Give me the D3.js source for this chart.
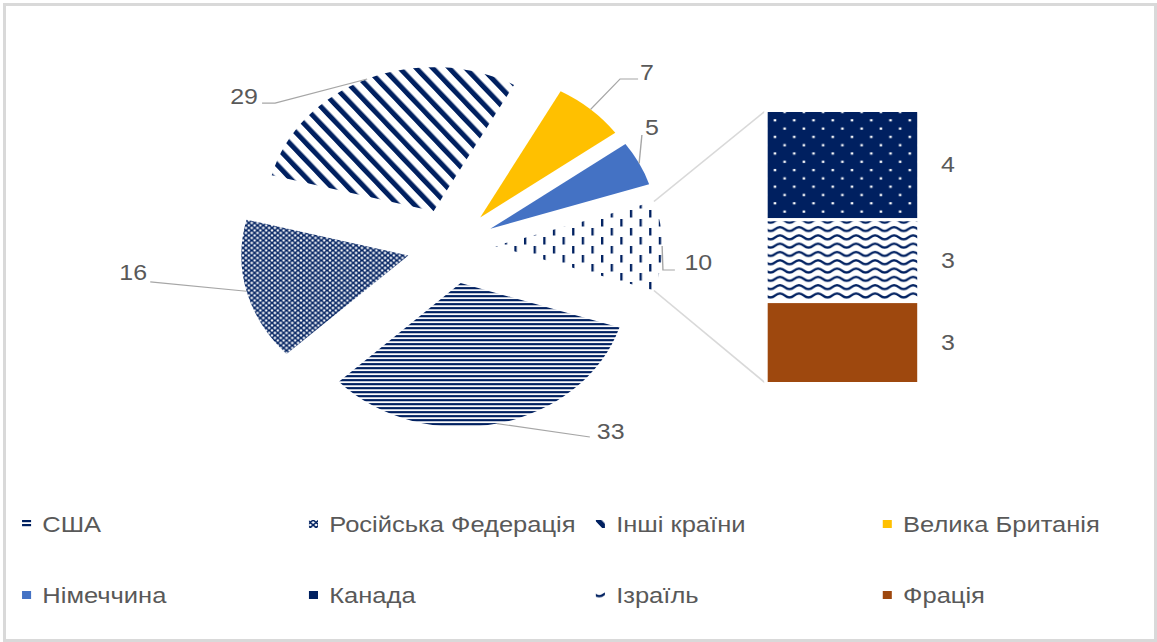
<!DOCTYPE html>
<html>
<head>
<meta charset="utf-8">
<script src="https://cdn.jsdelivr.net/npm/d3@7"></script>
<style>
  html, body { margin: 0; padding: 0; background: #fff; }
  #frame { position: absolute; left: 3px; top: 3px; width: 1154px; height: 639px;
           box-sizing: border-box; border: 3px solid #d9d9d9; }
  svg { position: absolute; left: 0; top: 0; }
</style>
</head>
<body>
<div id="frame"></div>
<svg id="chart"></svg>
<script>
// Main pie: countries with their own slice
const pieCategories = ["США", "Російська Федерація", "Інші країни", "Велика Британія", "Німеччина"];
const pieValues = [33, 16, 29, 7, 5];

// Secondary bar: countries grouped into the combined slice
const barCategories = ["Канада", "Ізраїль", "Фрація"];
const barValues = [4, 3, 3];

// Legend order
const legendCategories = ["США", "Російська Федерація", "Інші країни", "Велика Британія",
                          "Німеччина", "Канада", "Ізраїль", "Фрація"];

const NAVY = "#002060";
const TEXT = "#595959";
const FONT = "Liberation Sans, Arial, sans-serif";

// The drawing is authored in a narrower space and stretched horizontally
const W = 1157, H = 642, SX = 1.16;
const IW = W / SX;

const svg = d3.select("#chart")
  .attr("width", W).attr("height", H)
  .attr("viewBox", `0 0 ${IW} ${H}`)
  .attr("preserveAspectRatio", "none");

// ---------- fill patterns ----------
const defs = svg.append("defs");
function pattern(id, w, h, transform) {
  const p = defs.append("pattern").attr("id", id)
    .attr("patternUnits", "userSpaceOnUse").attr("width", w).attr("height", h);
  if (transform) p.attr("patternTransform", transform);
  return p;
}
// narrow horizontal lines
let p = pattern("pUSA", 10, 4);
p.append("rect").attr("width", 10).attr("height", 4).attr("fill", "#fff");
p.append("rect").attr("width", 10).attr("height", 2.2).attr("fill", NAVY);
// trellis
p = pattern("pRF", 5, 5);
p.append("rect").attr("width", 5).attr("height", 5).attr("fill", "#fff");
p.append("path").attr("d", "M-1,-1L6,6M6,-1L-1,6").attr("stroke", NAVY).attr("stroke-width", 1.4);
// wide downward diagonal
p = pattern("pOthers", 11, 10, "rotate(-39.4)");
p.append("rect").attr("width", 11).attr("height", 10).attr("fill", "#fff");
p.append("rect").attr("width", 4.6).attr("height", 10).attr("fill", NAVY);
// dashed vertical
p = pattern("pRest", 16.6, 18);
p.append("rect").attr("width", 16.6).attr("height", 18).attr("fill", "#fff");
p.append("rect").attr("x", 0).attr("y", 0).attr("width", 2).attr("height", 7.5).attr("fill", NAVY);
p.append("rect").attr("x", 8.3).attr("y", 9).attr("width", 2).attr("height", 7.5).attr("fill", NAVY);
// dotted navy
p = pattern("pCanada", 16.6, 16.6);
p.append("rect").attr("width", 16.6).attr("height", 16.6).attr("fill", NAVY);
p.append("rect").attr("x", 3).attr("y", 3).attr("width", 2.2).attr("height", 2.2).attr("fill", "#fff");
p.append("rect").attr("x", 11.3).attr("y", 11.3).attr("width", 2.2).attr("height", 2.2).attr("fill", "#fff");
// wave
p = pattern("pIsrael", 16.4, 8.3);
p.append("rect").attr("width", 16.4).attr("height", 8.3).attr("fill", "#fff");
p.append("path").attr("d", "M-4.1,5 Q0,1 4.1,5 Q8.2,9 12.3,5 Q16.4,1 20.5,5")
  .attr("fill", "none").attr("stroke", NAVY).attr("stroke-width", 2.2);

const fills = {
  "США": "url(#pUSA)",
  "Російська Федерація": "url(#pRF)",
  "Інші країни": "url(#pOthers)",
  "Велика Британія": "#FFC000",
  "Німеччина": "#4472C4",
  "__rest": "url(#pRest)",
  "Канада": "url(#pCanada)",
  "Ізраїль": "url(#pIsrael)",
  "Фрація": "#9E480E"
};

// ---------- pie ----------
const restValue = d3.sum(barValues);
const total = d3.sum(pieValues) + restValue;
const slices = pieCategories.map((c, i) => ({ name: c, value: pieValues[i] }))
  .concat([{ name: "__rest", value: restValue }]);

// combined slice is centred on the right-hand side
const start = Math.PI / 2 + Math.PI * restValue / total;
const pie = d3.pie().sort(null).value(d => d.value)
  .startAngle(start).endAngle(start + 2 * Math.PI);

const cx = 388.8, cy = 246, R = 144, EXPLODE = 38;
const arc = d3.arc().innerRadius(0).outerRadius(R);

const arcs = pie(slices).map(a => {
  const mid = (a.startAngle + a.endAngle) / 2;
  a.dx = Math.sin(mid) * EXPLODE;
  a.dy = -Math.cos(mid) * EXPLODE;
  a.outer = [cx + a.dx + Math.sin(mid) * R, cy + a.dy - Math.cos(mid) * R];
  return a;
});

const gPie = svg.append("g");
gPie.selectAll("path").data(arcs).join("path")
  .attr("transform", d => `translate(${cx + d.dx},${cy + d.dy})`)
  .attr("d", arc)
  .attr("fill", d => fills[d.data.name]);

// ---------- secondary bar ----------
const barX0 = 660.3, barX1 = 792.2;
const y = d3.scaleLinear().domain([0, restValue]).range([110.5, 383.5]);
let acc = 0;
const stack = barCategories.map((c, i) => {
  const s = { name: c, value: barValues[i], y0: acc, y1: acc + barValues[i] };
  acc += barValues[i];
  return s;
});

// connector lines from the combined slice to the bar
const rest = arcs.find(a => a.data.name === "__rest");
const restTop = [cx + rest.dx + Math.sin(rest.startAngle) * R, cy + rest.dy - Math.cos(rest.startAngle) * R];
const restBot = [cx + rest.dx + Math.sin(rest.endAngle) * R, cy + rest.dy - Math.cos(rest.endAngle) * R];
svg.append("g").attr("stroke", "#d9d9d9").attr("stroke-width", 1.5).attr("fill", "none")
  .selectAll("line").data([[restTop, [barX0, y(0)]], [restBot, [barX0, y(restValue)]]])
  .join("line")
  .attr("x1", d => d[0][0]).attr("y1", d => d[0][1])
  .attr("x2", d => d[1][0]).attr("y2", d => d[1][1]);

svg.append("g").selectAll("rect").data(stack).join("rect")
  .attr("x", barX0).attr("width", barX1 - barX0)
  .attr("y", d => y(d.y0)).attr("height", d => y(d.y1) - y(d.y0))
  .attr("fill", d => fills[d.name])
  .attr("stroke", "#fff").attr("stroke-width", 3);

svg.append("g").selectAll("text").data(stack).join("text")
  .attr("x", barX1 + 25).attr("y", d => y((d.y0 + d.y1) / 2))
  .attr("text-anchor", "middle").attr("dominant-baseline", "central")
  .attr("font-family", FONT).attr("font-size", 21.5)
  .attr("fill", TEXT).text(d => d.value);

// ---------- pie data labels with leader lines ----------
// offsets are relative to the middle of each slice's outer arc
const labelLayout = {
  "США":                 { pts: [[80, 13.4]], text: [86, 8.4], anchor: "start" },
  "Російська Федерація": { pts: [[-83, -9.3]], text: [-85.7, -18.3], anchor: "end" },
  "Інші країни":         { pts: [[-79.4, 24.1], [-90.6, 24.1]], text: [-94.1, 18.1], anchor: "end" },
  "Велика Британія":     { pts: [[25.4, -30.5], [40.9, -30.5]], text: [42.6, -36.5], anchor: "start" },
  "Німеччина":           { pts: [[2.4, -28.3]], text: [5, -35.3], anchor: "start" },
  "__rest":              { pts: [[0.7, 24], [11, 24]], text: [19.2, 17], anchor: "start" }
};
const gLab = svg.append("g");
arcs.forEach(a => {
  const L = labelLayout[a.data.name];
  const [ox, oy] = a.outer;
  const line = d3.line()([[ox, oy]].concat(L.pts.map(q => [ox + q[0], oy + q[1]])));
  gLab.append("path").attr("d", line).attr("fill", "none")
    .attr("stroke", "#a6a6a6").attr("stroke-width", 1.2);
  gLab.append("text")
    .attr("x", ox + L.text[0]).attr("y", oy + L.text[1])
    .attr("text-anchor", L.anchor).attr("dominant-baseline", "central")
    .attr("font-family", FONT).attr("font-size", 21.5)
    .attr("fill", TEXT).text(a.data.value);
});

// ---------- legend ----------
const col = d3.scalePoint().domain([0, 1, 2, 3]).range([19, 761]);
const row = d3.scalePoint().domain([0, 1]).range([524, 595]);
const gLeg = svg.append("g");
legendCategories.forEach((c, i) => {
  const gx = col(i % 4), gy = row(Math.floor(i / 4));
  gLeg.append("rect").attr("x", gx).attr("y", gy - 4).attr("width", 7.8).attr("height", 8)
    .attr("fill", fills[c]);
  gLeg.append("text").attr("x", gx + 17.5).attr("y", gy)
    .attr("dominant-baseline", "central")
    .attr("font-family", FONT).attr("font-size", 22)
    .attr("fill", TEXT).text(c);
});
</script>
</body>
</html>
